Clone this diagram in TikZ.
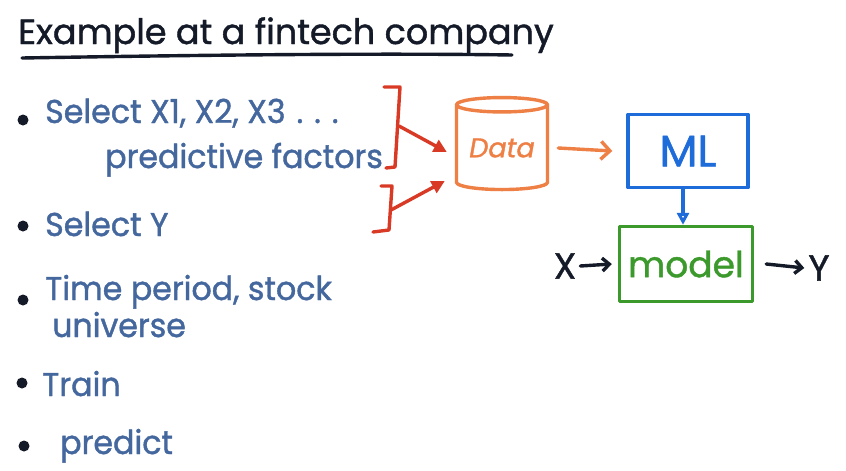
\documentclass[tikz,border=0pt]{standalone}
\usepackage{fontspec}
\setmainfont{Poppins}
\newfontfamily\hand[FakeBold=1.2]{Poppins}
\newfontfamily\handnarrow[FakeBold=1.2,FakeStretch=0.96]{Poppins}
\usetikzlibrary{arrows.meta,shapes.geometric}
\definecolor{ink}{HTML}{141A28}
\definecolor{slate}{HTML}{44679E}
\definecolor{redpen}{HTML}{D93A25}
\definecolor{orangepen}{HTML}{EE7F45}
\definecolor{bluepen}{HTML}{1E6BDA}
\definecolor{greenpen}{HTML}{3C9A2C}
\tikzset{
  pen/.style={line width=3.4pt, line cap=round, line join=round},
  title/.style={font=\hand\fontsize{35}{35}\selectfont, text=ink, anchor=base west, inner sep=0pt},
  item/.style={font=\handnarrow\fontsize{33}{33}\selectfont, text=slate, anchor=base west, inner sep=0pt},
  dot/.style={circle, fill=ink, inner sep=0pt, minimum size=11pt},
  boxlabel/.style={font=\hand\fontsize{36}{36}\selectfont, inner sep=0pt},
  barb/.style={-{Straight Barb[length=9pt,width=18pt]}},
  filledtip/.style={-{Triangle[length=13pt,width=13pt]}},
}
\begin{document}
\begin{tikzpicture}[x=1pt,y=-1pt]
\useasboundingbox[fill=white] (0,0) rectangle (846,471);

% heading
\node[title] (head) at (18,44) {Example at a fintech company};
\draw[pen, ink] (22,58) .. controls (200,55) and (380,53) .. (512,55) coordinate (uline);

% bullet list
\node[dot] (b1) at (23,120) {};
\node[item] (t1) at (45,123) {Select X1, X2, X3\,\,.\,\,.\,\,.};
\node[item] (t1b) at (105,168) {predictive factors};
\node[dot] (b2) at (23,226) {};
\node[item] (t2) at (45,236) {Select Y};
\node[dot] (b3) at (23,300) {};
\node[item] (t3) at (45,300) {Time period, stock};
\node[item] (t3b) at (52,337) {universe};
\node[dot] (b4) at (22,383) {};
\node[item] (t4) at (42,396) {Train};
\node[dot] (b5) at (24,446) {};
\node[item] (t5) at (60,454) {predict};

% brackets
\coordinate (br1) at (399,126);
\draw[pen, redpen] (384,87) -- (400,87) -- (395,167) -- (386,168);
\coordinate (br2) at (391,210);
\draw[pen, redpen] (381,186) -- (392,186) -- (389,230) -- (373,232);

% data store
\node[cylinder, shape border rotate=90, aspect=0.22, draw=orangepen, pen,
      minimum width=91pt, minimum height=92pt, inner sep=0pt,
      text=orangepen, font=\hand\fontsize{27}{27}\selectfont\itshape] (data) at (502,148) {Data};

\draw[pen, redpen, filledtip] (br1) -- ([xshift=-8pt,yshift=-4pt]data.west);
\draw[pen, redpen, filledtip] (br2) -- ([xshift=-10pt,yshift=-33pt]data.west);

% learner and model
\node[draw=bluepen, pen, minimum width=120pt, minimum height=73pt, text=bluepen,
      font=\hand\fontsize{44}{44}\selectfont, inner sep=0pt] (ml) at (688,151) {ML};
\node[draw=greenpen, pen, minimum width=133pt, minimum height=75pt, boxlabel, text=greenpen] (model) at (686,264) {model};

\draw[pen, orangepen, barb] ([xshift=9pt]data.east) -- ([xshift=-14pt]ml.west);
\draw[pen, bluepen, -{Triangle[open,length=12pt,width=12pt]}] (ml.south -| 683,0) -- (model.north -| 683,0);

\node[boxlabel, text=ink] (xin) at (565,266) {X};
\node[boxlabel, text=ink] (yout) at (819,268) {Y};
\draw[pen, ink, -{Straight Barb[length=7pt,width=13pt]}] ([xshift=4pt]xin.east) -- ([xshift=-6pt]model.west);
\draw[pen, ink, -{Straight Barb[length=7pt,width=13pt]}] ([xshift=12pt]model.east) -- ([xshift=-4pt]yout.west);
\end{tikzpicture}
\end{document}
